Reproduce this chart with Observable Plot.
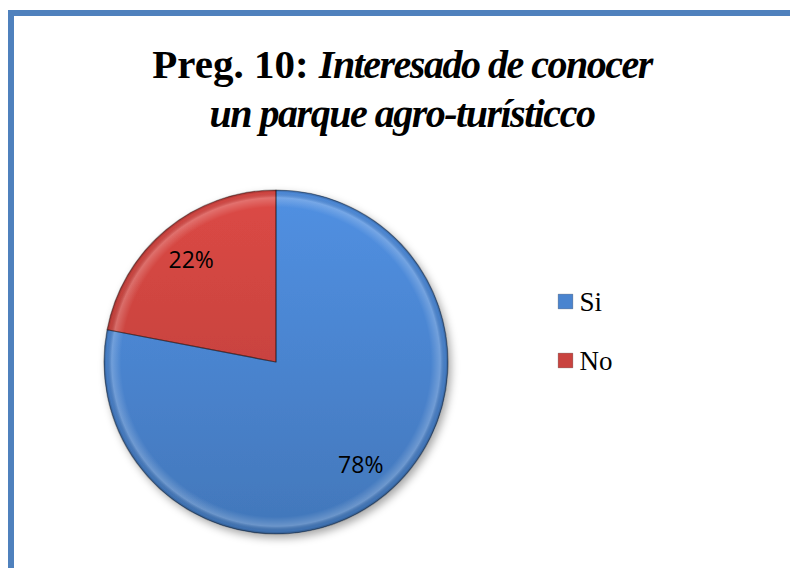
<!DOCTYPE html>
<html>
<head>
<meta charset="utf-8">
<script src="https://cdn.jsdelivr.net/npm/d3@7"></script>
<script src="https://cdn.jsdelivr.net/npm/@observablehq/plot@0.6"></script>
<style>
  html, body { margin: 0; padding: 0; background: #fff; }
  #wrap { position: relative; width: 790px; height: 568px; overflow: hidden; background: #fff; }
  #border { position: absolute; left: 8px; top: 10px; width: 800px; height: 600px;
    border-left: 6px solid #4f81bd; border-top: 6px solid #4f81bd; box-sizing: border-box; }
  #title { position: absolute; left: 0; top: 40px; width: 804px; text-align: center;
    font-family: "Liberation Serif", "Times New Roman", serif; font-weight: bold;
    font-size: 41px; line-height: 48px; color: #000; z-index: 2; }
  #title i { font-style: italic; font-size: 40px; letter-spacing: -1.5px; }
  #chart { position: absolute; left: 0; top: 0; z-index: 1; }
</style>
</head>
<body>
<div id="wrap">
  <div id="border"></div>
  <div id="chart"></div>
  <div id="title">Preg. 10: <i>Interesado de conocer</i><br><i>un parque agro-turísticco</i></div>
</div>
<script>
// Data
const categories = ["Si", "No"];
const percents = [78, 22];
const labels = ["78%", "22%"];
const colors = ["#4a84cf", "#c9433f"];

const data = categories.map((c, i) => ({answer: c, value: percents[i], label: labels[i]}));

function pieMark(index, scales, values, dims, context) {
  const cx = 276, cy = 362, r = 172, labelR = 133;
  const g = d3.create("svg:g");
  const defs = g.append("defs");
  const f = defs.append("filter").attr("id", "shadow").attr("x", "-20%").attr("y", "-20%").attr("width", "140%").attr("height", "140%");
  f.append("feDropShadow").attr("dx", 3).attr("dy", 4).attr("stdDeviation", 4)
    .attr("flood-color", "#000").attr("flood-opacity", 0.35);
  const rim = defs.append("radialGradient").attr("id", "rim")
    .attr("gradientUnits", "userSpaceOnUse").attr("cx", 0).attr("cy", 0).attr("r", r);
  rim.append("stop").attr("offset", 0.9).attr("stop-color", "#fff").attr("stop-opacity", 0);
  rim.append("stop").attr("offset", 0.955).attr("stop-color", "#fff").attr("stop-opacity", 0.22);
  rim.append("stop").attr("offset", 0.985).attr("stop-color", "#000").attr("stop-opacity", 0.05);
  rim.append("stop").attr("offset", 1).attr("stop-color", "#000").attr("stop-opacity", 0.3);

  const arcs = d3.pie().sort(null).value(d => d.value)(data);
  arcs.forEach((a, i) => {
    const base = d3.color(scales.color(a.data.answer));
    const lg = defs.append("linearGradient").attr("id", "grad" + i)
      .attr("gradientUnits", "userSpaceOnUse").attr("x1", 0).attr("y1", -r).attr("x2", 0).attr("y2", r);
    lg.append("stop").attr("offset", 0).attr("stop-color", base.brighter(0.25).formatHex());
    lg.append("stop").attr("offset", 0.5).attr("stop-color", base.formatHex());
    lg.append("stop").attr("offset", 1).attr("stop-color", base.darker(0.3).formatHex());
  });
  const arc = d3.arc().innerRadius(0).outerRadius(r);
  const pg = g.append("g").attr("transform", `translate(${cx},${cy})`);
  const sg = pg.append("g").attr("filter", "url(#shadow)");
  sg.selectAll("path.slice").data(arcs).join("path").attr("class", "slice")
    .attr("d", arc)
    .attr("fill", (d, i) => `url(#grad${i})`);
  pg.selectAll("path.rim").data(arcs).join("path").attr("class", "rim")
    .attr("d", arc).attr("fill", "url(#rim)");
  pg.selectAll("path.edge").data(arcs).join("path").attr("class", "edge")
    .attr("d", arc).attr("fill", "none")
    .attr("stroke", "rgba(0,0,0,0.35)").attr("stroke-width", 1.2).attr("stroke-linejoin", "round");
  const la = d3.arc().innerRadius(labelR).outerRadius(labelR);
  pg.selectAll("text").data(arcs).join("text")
    .attr("transform", d => `translate(${la.centroid(d)})`)
    .attr("text-anchor", "middle").attr("dy", "0.35em")
    .attr("font-family", "'Open Sans', sans-serif").attr("font-size", 23)
    .attr("fill", "#000")
    .text(d => d.data.label);
  return g.node();
}

const plot = Plot.plot({
  width: 790,
  height: 568,
  margin: 0,
  style: {background: "transparent", overflow: "visible"},
  y: {type: "point", domain: categories, range: [301, 360], padding: 0, axis: null},
  color: {domain: categories, range: colors},
  marks: [
    pieMark,
    Plot.dot(data, {y: "answer", fill: "answer", symbol: "square", r: 8.3, frameAnchor: "left", dx: 565,
      stroke: "rgba(0,0,0,0.25)", strokeWidth: 0.8}),
    Plot.text(data, {y: "answer", text: "answer", frameAnchor: "left", dx: 579, textAnchor: "start",
      fontSize: 27, fontFamily: "Liberation Serif", fill: "#000", dy: 1})
  ]
});
document.getElementById("chart").appendChild(plot);
</script>
</body>
</html>
